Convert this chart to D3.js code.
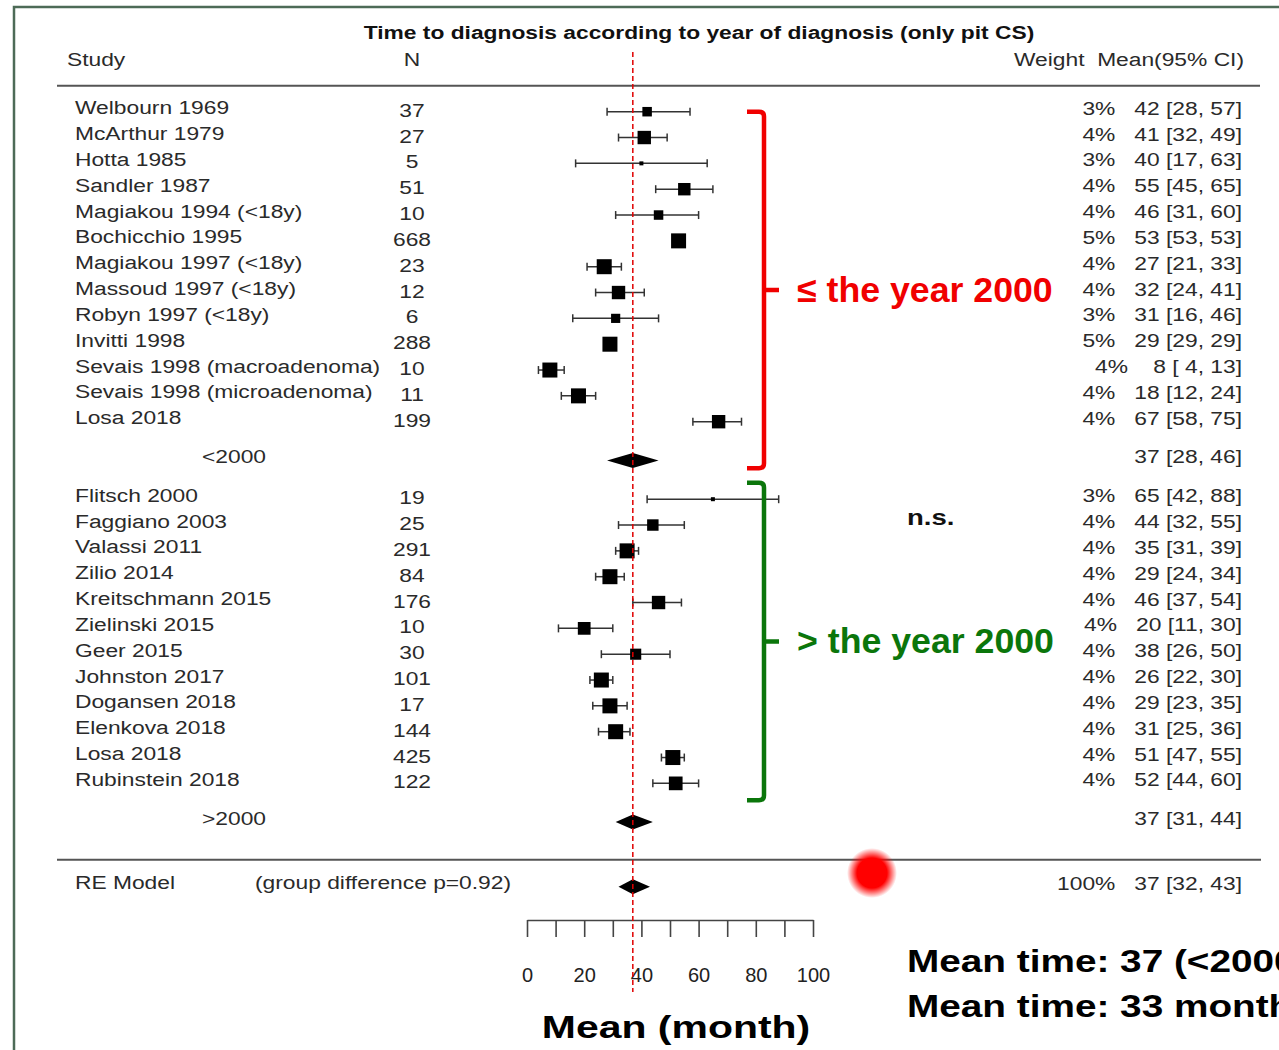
<!DOCTYPE html>
<meta charset="utf-8">

<head>
    <script src="https://d3js.org/d3.v7.min.js"></script>
    <title>Time to diagnosis according to year of diagnosis</title>
</head>
<body>
    <div id="forest"></div>
</body>
<style>
    body {
        margin: 0;
        background: #fff;
    }

    text {
        font-family: "Liberation Sans", Arial, sans-serif;
        white-space: pre;
    }
</style>
<script>

    // studies (first 13 = diagnosed up to 2000, rest = after 2000)
    var studies = ["Welbourn 1969", "McArthur 1979", "Hotta 1985", "Sandler 1987", "Magiakou 1994 (<18y)",
        "Bochicchio 1995", "Magiakou 1997 (<18y)", "Massoud 1997 (<18y)", "Robyn 1997 (<18y)", "Invitti 1998",
        "Sevais 1998 (macroadenoma)", "Sevais 1998 (microadenoma)", "Losa 2018",
        "Flitsch 2000", "Faggiano 2003", "Valassi 2011", "Zilio 2014", "Kreitschmann 2015", "Zielinski 2015",
        "Geer 2015", "Johnston 2017", "Dogansen 2018", "Elenkova 2018", "Losa 2018", "Rubinstein 2018"];
    var groupSizes = [13, 12];
    var nPatients = [37, 27, 5, 51, 10, 668, 23, 12, 6, 288, 10, 11, 199,
        19, 25, 291, 84, 176, 10, 30, 101, 17, 144, 425, 122];
    var means = [42, 41, 40, 55, 46, 53, 27, 32, 31, 29, 8, 18, 67,
        65, 44, 35, 29, 46, 20, 38, 26, 29, 31, 51, 52];
    var lower = [28, 32, 17, 45, 31, 53, 21, 24, 16, 29, 4, 12, 58,
        42, 32, 31, 24, 37, 11, 26, 22, 23, 25, 47, 44];
    var upper = [57, 49, 63, 65, 60, 53, 33, 41, 46, 29, 13, 24, 75,
        88, 55, 39, 34, 54, 30, 50, 30, 35, 36, 55, 60];
    var weights = ["3%", "4%", "3%", "4%", "4%", "5%", "4%", "4%", "3%", "5%", "4%", "4%", "4%",
        "3%", "4%", "4%", "4%", "4%", "4%", "4%", "4%", "4%", "4%", "4%", "4%"];

    // subgroup estimates
    var subgroupLabels = ["<2000", ">2000"];
    var subgroupMeans = [37, 37];
    var subgroupLower = [28, 31];
    var subgroupUpper = [46, 44];

    // overall random effects model
    var overallLabel = "RE Model";
    var overallNote = "(group difference p=0.92)";
    var overallWeight = "100%";
    var overallMean = 37, overallLower = 32, overallUpper = 43;

    var xTicks = [0, 10, 20, 30, 40, 50, 60, 70, 80, 90, 100];
    var groupNotes = ["\u2264 the year 2000", "> the year 2000"];
    var groupColors = ["#f00000", "#0b760b"];

    var width = 1279,
        height = 1050;

    var svg = d3.select("#forest")
        .append("svg")
        .attr("width", width)
        .attr("height", height);

    var x = d3.scaleLinear().domain([0, 100]).range([527, 813]);
    // one unit = one row of the forest plot
    var y = d3.scaleLinear().domain([0, 30]).range([111.7, 886.7]);

    // square size shrinks with the width of the CI
    var boxSize = d3.scaleLinear().domain([6, 23]).range([15, 4]).clamp(true);

    // row of each study, leaving room for the subgroup summary
    var rows = [];
    var start = 0;
    groupSizes.forEach(function (n) {
        for (var k = 0; k < n; k++) rows.push(start + k);
        start += n + 2;
    });
    var subgroupRows = [groupSizes[0] + 0.5, groupSizes[0] + groupSizes[1] + 2.5];

    var pad = function (v) {
        return (v < 10 ? " " : "") + v;
    };
    var ciText = function (m, l, u) {
        return pad(m) + " [" + pad(l) + ", " + pad(u) + "]";
    };

    // text drawn slightly stretched, like the screenshot
    var label = function (txt, px, py, o) {
        o = o || {};
        return svg.append("text")
            .attr("transform", "translate(" + px + "," + py + ") scale(" + (o.sx || 1.2) + ",1)")
            .attr("text-anchor", o.anchor || "start")
            .attr("fill", o.fill || "#2a2a2a")
            .style("font-size", (o.size || 19) + "px")
            .style("font-weight", o.weight || "normal")
            .text(txt);
    };

    // frame of the slide
    svg.append("path")
        .attr("d", "M14,1050 L14,7 L1279,7")
        .attr("fill", "none")
        .attr("stroke", "#4d6b57")
        .attr("stroke-width", 2.5);

    // title + header
    label("Time to diagnosis according to year of diagnosis (only pit CS)", 699, y(-2.8), {
        anchor: "middle", weight: "bold", fill: "#111"
    });
    label("Study", 67, y(-1.77));
    label("N", 412, y(-1.77), { anchor: "middle" });
    label("Weight  Mean(95% CI)", 1244, y(-1.77), { anchor: "end" });

    // rules
    svg.append("line")
        .attr("x1", 57).attr("x2", 1260)
        .attr("y1", y(-1)).attr("y2", y(-1))
        .attr("stroke", "#555").attr("stroke-width", 2);
    svg.append("line")
        .attr("x1", 57).attr("x2", 1261)
        .attr("y1", y(28.96)).attr("y2", y(28.96))
        .attr("stroke", "#555").attr("stroke-width", 2);

    // study text columns
    studies.forEach(function (s, i) {
        var r = y(rows[i]);
        label(s, 75, r + 2.5);
        label(String(nPatients[i]), 412, r + 5, { anchor: "middle" });
        label(weights[i] + "   " + ciText(means[i], lower[i], upper[i]), 1242, r + 3, { anchor: "end" });
    });

    subgroupLabels.forEach(function (s, j) {
        var r = y(subgroupRows[j]);
        label(s, 202, r + 2.5);
        label(ciText(subgroupMeans[j], subgroupLower[j], subgroupUpper[j]), 1242, r + 3, { anchor: "end" });
    });

    label(overallLabel, 75, y(30) + 2.5);
    label(overallNote, 255, y(30) + 2.5);
    label(overallWeight + "   " + ciText(overallMean, overallLower, overallUpper), 1242, y(30) + 3, { anchor: "end" });

    // CI lines with end caps
    var ci = svg.append("g")
        .selectAll("g")
        .data(studies.map(function (s, i) { return i; }).filter(function (i) { return upper[i] > lower[i]; }))
        .enter()
        .append("g")
        .attr("stroke", "#333")
        .attr("stroke-width", 1.5);
    ci.append("line")
        .attr("x1", function (i) { return x(lower[i]); })
        .attr("x2", function (i) { return x(upper[i]); })
        .attr("y1", function (i) { return y(rows[i]); })
        .attr("y2", function (i) { return y(rows[i]); });
    ci.append("line")
        .attr("x1", function (i) { return x(lower[i]); })
        .attr("x2", function (i) { return x(lower[i]); })
        .attr("y1", function (i) { return y(rows[i]) - 4; })
        .attr("y2", function (i) { return y(rows[i]) + 4; });
    ci.append("line")
        .attr("x1", function (i) { return x(upper[i]); })
        .attr("x2", function (i) { return x(upper[i]); })
        .attr("y1", function (i) { return y(rows[i]) - 4; })
        .attr("y2", function (i) { return y(rows[i]) + 4; });

    // squares
    svg.append("g")
        .selectAll("rect")
        .data(studies.map(function (s, i) { return i; }))
        .enter()
        .append("rect")
        .attr("x", function (i) { return x(means[i]) - boxSize((upper[i] - lower[i]) / 2) / 2; })
        .attr("y", function (i) { return y(rows[i]) - boxSize((upper[i] - lower[i]) / 2) / 2; })
        .attr("width", function (i) { return boxSize((upper[i] - lower[i]) / 2); })
        .attr("height", function (i) { return boxSize((upper[i] - lower[i]) / 2); })
        .attr("fill", "#000");

    // diamonds
    var diamond = function (m, l, u, r) {
        var cy = y(r);
        return "M" + x(l) + "," + cy + "L" + x(m) + "," + (cy - 7.5) + "L" + x(u) + "," + cy +
            "L" + x(m) + "," + (cy + 7.5) + "Z";
    };
    subgroupLabels.forEach(function (s, j) {
        svg.append("path")
            .attr("d", diamond(subgroupMeans[j], subgroupLower[j], subgroupUpper[j], subgroupRows[j]))
            .attr("fill", "#000");
    });
    svg.append("path")
        .attr("d", diamond(overallMean, overallLower, overallUpper, 30))
        .attr("fill", "#000");

    // axis
    var axis = svg.append("g")
        .attr("transform", "translate(0,920)")
        .call(d3.axisBottom(x)
            .tickValues(xTicks)
            .tickSize(17)
            .tickSizeOuter(0)
            .tickPadding(31)
            .tickFormat(function (d) { return d % 20 === 0 ? d : ""; }));
    axis.select(".domain").attr("stroke", "#444").attr("stroke-width", 1.6);
    axis.selectAll(".tick line").attr("stroke", "#444").attr("stroke-width", 1.6);
    axis.selectAll(".tick text")
        .attr("fill", "#222")
        .style("font-size", "20px");

    // reference line at the overall mean
    svg.append("line")
        .attr("x1", x(overallMean)).attr("x2", x(overallMean))
        .attr("y1", 52).attr("y2", 992)
        .attr("stroke", "#e00000")
        .attr("stroke-width", 1.5)
        .attr("stroke-dasharray", "5,3");

    // brackets around the two groups
    var brackets = [[0, groupSizes[0] + 0.8], [groupSizes[0] + 1.36, groupSizes[0] + groupSizes[1] + 1.65]];
    brackets.forEach(function (b, j) {
        var bx = 764,
            y0 = y(b[0]),
            y1 = y(b[1]),
            ym = (y0 + y1) / 2;
        svg.append("path")
            .attr("d", "M" + (bx - 17) + "," + y0 + "L" + (bx - 5) + "," + y0 + "Q" + bx + "," + y0 + " " + bx + "," + (y0 + 5) +
                "L" + bx + "," + (y1 - 5) + "Q" + bx + "," + y1 + " " + (bx - 5) + "," + y1 + "L" + (bx - 17) + "," + y1 +
                "M" + bx + "," + ym + "L" + (bx + 15) + "," + ym)
            .attr("fill", "none")
            .attr("stroke", groupColors[j])
            .attr("stroke-width", 4.5);
        label(groupNotes[j], 797, ym + 12, { sx: 1.02, size: 35, weight: "bold", fill: groupColors[j] });
    });

    label("n.s.", 907, 525, { sx: 1.25, size: 22, weight: "bold", fill: "#111" });

    // laser pointer dot
    var grad = svg.append("defs")
        .append("radialGradient")
        .attr("id", "laser");
    grad.append("stop").attr("offset", "0%").attr("stop-color", "#ff0000").attr("stop-opacity", 1);
    grad.append("stop").attr("offset", "60%").attr("stop-color", "#ff0000").attr("stop-opacity", 1);
    grad.append("stop").attr("offset", "100%").attr("stop-color", "#ff0000").attr("stop-opacity", 0);
    svg.append("circle")
        .attr("cx", 872).attr("cy", 873).attr("r", 25)
        .attr("fill", "url(#laser)");

    // slide text
    label("Mean (month)", 676, 1038, { anchor: "middle", sx: 1.28, size: 32, weight: "bold", fill: "#000" });
    label("Mean time: 37 (<2000)", 907, 972, { sx: 1.25, size: 31, weight: "bold", fill: "#000" });
    label("Mean time: 33 months", 907, 1017, { sx: 1.25, size: 31, weight: "bold", fill: "#000" });

</script>
